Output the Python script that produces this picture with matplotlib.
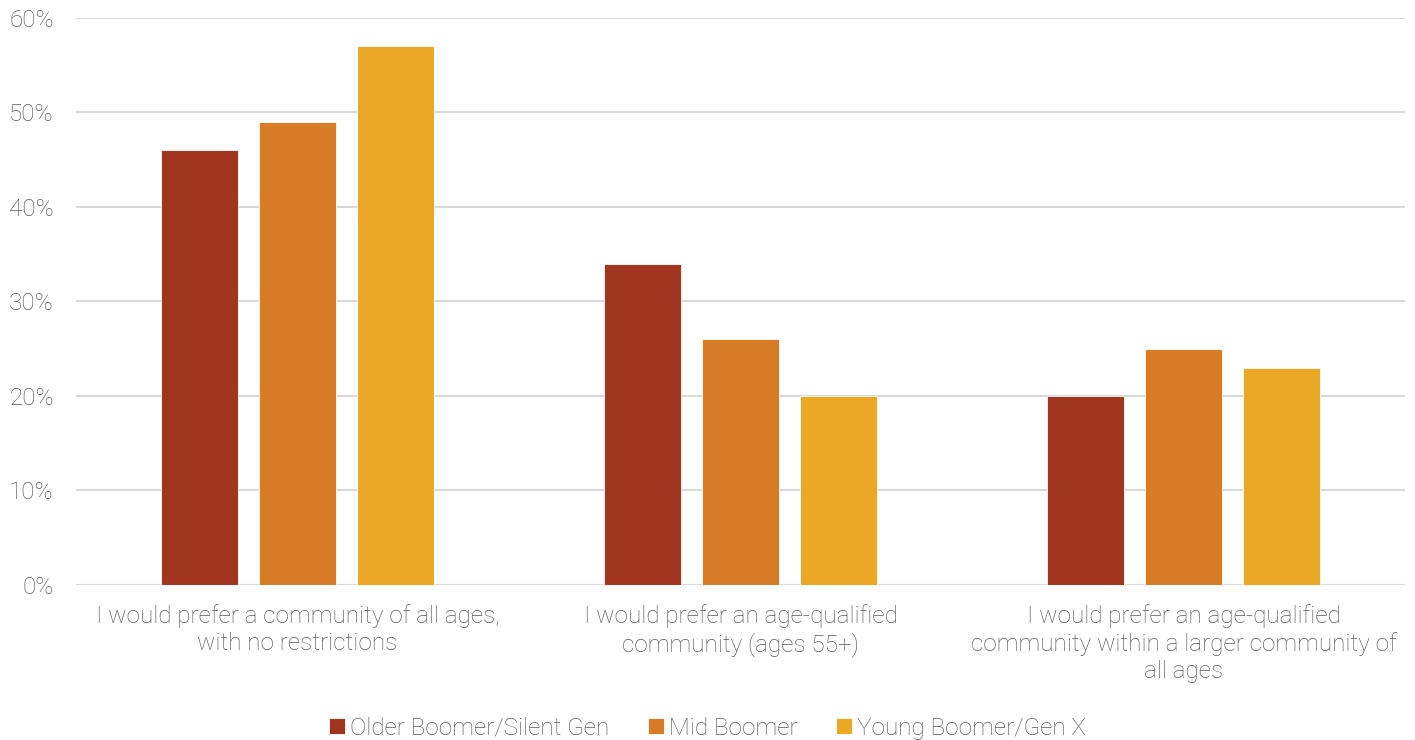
import matplotlib.pyplot as plt
import numpy as np
from matplotlib.ticker import PercentFormatter

categories = [
    "I would prefer a community of all ages,\nwith no restrictions",
    "I would prefer an age-qualified\ncommunity (ages 55+)",
    "I would prefer an age-qualified\ncommunity within a larger community of\nall ages",
]
series_names = ["Older Boomer/Silent Gen", "Mid Boomer", "Young Boomer/Gen X"]
older_boomer = [46, 34, 20]
mid_boomer = [49, 26, 25]
young_boomer = [57, 20, 23]
colors = ["#A23520", "#D77B25", "#EAA824"]

plt.rcParams["font.family"] = ["Roboto", "DejaVu Sans"]
plt.rcParams["font.weight"] = "light"
text_color = "#595959"

fig = plt.figure(figsize=(14.15, 7.4), dpi=100)
ax = fig.add_axes([0.0537, 0.2095, 0.9392, 0.7662])

x = np.arange(len(categories))
width = 0.174
step = 0.221
for i, (name, vals) in enumerate(zip(series_names, [older_boomer, mid_boomer, young_boomer])):
    ax.bar(x + (i - 1) * step, vals, width, color=colors[i], label=name,
           edgecolor="white", linewidth=0.6, zorder=3)

ax.set_xlim(-0.5, 2.5)
ax.set_ylim(0, 60)
ax.set_yticks(range(0, 61, 10))
ax.yaxis.set_major_formatter(PercentFormatter(decimals=0))
ax.grid(axis="y", color="#D9D9D9", linewidth=1.5, zorder=0)
for s in ["top", "right", "left", "bottom"]:
    ax.spines[s].set_visible(False)
ax.axhline(0, color="#D9D9D9", linewidth=1.5, zorder=1)

ax.set_xticks(x)
ax.set_xticklabels(categories, linespacing=1.2)
ax.tick_params(axis="both", length=0, labelsize=17.5, labelcolor=text_color)
ax.tick_params(axis="y", pad=16)
ax.tick_params(axis="x", pad=14)

leg = fig.legend(loc="center", bbox_to_anchor=(0.5, 0.016), ncol=3, frameon=False,
                 fontsize=17.5, handlelength=0.65, handleheight=0.65, handletextpad=0.2,
                 columnspacing=1.6, labelcolor=text_color)

fig.savefig("out.png", dpi=100)
